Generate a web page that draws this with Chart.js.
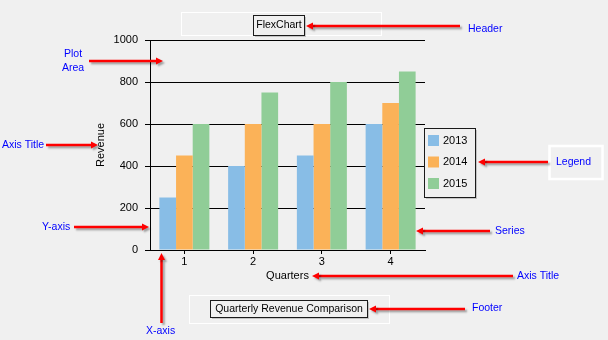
<!DOCTYPE html>
<html>
<head>
<meta charset="utf-8">
<script src="https://cdn.jsdelivr.net/npm/chart.js@4.4.1/dist/chart.umd.min.js"></script>
<style>
  html, body { margin: 0; padding: 0; background: #f0f0f0; }
  canvas { display: block; }
</style>
</head>
<body>
<canvas id="chart" width="608" height="340"></canvas>
<script>
// chart data
const quarters = ['1', '2', '3', '4'];
const seriesNames = ['2013', '2014', '2015'];
const revenue2013 = [250, 400, 450, 600];
const revenue2014 = [450, 600, 600, 700];
const revenue2015 = [600, 750, 800, 850];
const yTicks = [0, 200, 400, 600, 800, 1000];
const seriesColors = ['#88bde6', '#fbb258', '#90cd97'];

const headerText = 'FlexChart';
const footerText = 'Quarterly Revenue Comparison';
const xTitle = 'Quarters';
const yTitle = 'Revenue';

const FONT = "'Liberation Sans', Arial, sans-serif";
const BLUE = '#0000ff';

// red callout arrow with a soft grey shadow
function drawArrow(ctx, x1, y1, x2, y2) {
  ctx.save();
  ctx.shadowColor = 'rgba(0, 0, 0, 0.35)';
  ctx.shadowOffsetX = 2;
  ctx.shadowOffsetY = 2;
  ctx.shadowBlur = 2;
  ctx.strokeStyle = '#ff0000';
  ctx.fillStyle = '#ff0000';
  ctx.lineWidth = 2.5;
  const ang = Math.atan2(y2 - y1, x2 - x1);
  const hl = 7, hw = 3.5;
  const bx = x2 - hl * Math.cos(ang), by = y2 - hl * Math.sin(ang);
  ctx.beginPath();
  ctx.moveTo(x1, y1);
  ctx.lineTo(bx, by);
  ctx.stroke();
  ctx.beginPath();
  ctx.moveTo(x2, y2);
  ctx.lineTo(bx - hw * Math.sin(ang), by + hw * Math.cos(ang));
  ctx.lineTo(bx + hw * Math.sin(ang), by - hw * Math.cos(ang));
  ctx.closePath();
  ctx.fill();
  ctx.restore();
}

function label(ctx, text, x, y, align) {
  ctx.save();
  ctx.font = '10.5px ' + FONT;
  ctx.fillStyle = BLUE;
  ctx.textAlign = align || 'left';
  ctx.textBaseline = 'middle';
  ctx.fillText(text, x, y);
  ctx.restore();
}

function shadowBox(ctx, x, y, w, h) {
  ctx.save();
  ctx.fillStyle = 'rgba(0, 0, 0, 0.18)';
  ctx.fillRect(x + 2, y + 2, w, h);
  ctx.fillStyle = '#f0f0f0';
  ctx.fillRect(x, y, w, h);
  ctx.strokeStyle = '#1a1a1a';
  ctx.lineWidth = 1;
  ctx.strokeRect(x + 0.5, y + 0.5, w, h);
  ctx.restore();
}

const background = {
  id: 'background',
  beforeDraw: (chart) => {
    const ctx = chart.ctx;
    ctx.save();
    ctx.fillStyle = '#f0f0f0';
    ctx.fillRect(0, 0, chart.width, chart.height);
    ctx.restore();
  }
};

// header, footer, legend and the annotation callouts
const annotations = {
  id: 'annotations',
  afterDraw: (chart) => {
    const ctx = chart.ctx;
    ctx.save();

    // header
    ctx.strokeStyle = '#ffffff';
    ctx.lineWidth = 1;
    ctx.strokeRect(181.5, 12.5, 200, 23);
    shadowBox(ctx, 253, 15, 51, 20);
    ctx.font = '10.5px ' + FONT;
    ctx.fillStyle = '#000';
    ctx.textAlign = 'center';
    ctx.textBaseline = 'middle';
    ctx.fillText(headerText, 279, 25.5);

    // footer
    ctx.strokeStyle = '#ffffff';
    ctx.strokeRect(189.5, 295.5, 200, 28);
    shadowBox(ctx, 210, 300, 157, 17);
    ctx.fillStyle = '#000';
    ctx.fillText(footerText, 289, 309);

    // legend
    shadowBox(ctx, 424, 128, 51, 69);
    ctx.font = '11px ' + FONT;
    ctx.textAlign = 'left';
    chart.data.datasets.forEach((ds, i) => {
      const cy = 140.5 + i * 21.5;
      ctx.fillStyle = ds.backgroundColor;
      ctx.fillRect(428, cy - 5.5, 11, 11);
      ctx.fillStyle = '#000';
      ctx.fillText(ds.label, 443, cy);
    });

    // callouts
    ctx.strokeStyle = '#ffffff';
    ctx.lineWidth = 2.5;
    ctx.strokeRect(549.5, 146, 53, 33);

    drawArrow(ctx, 460, 26, 306, 26);
    label(ctx, 'Header', 468, 29);
    drawArrow(ctx, 548, 162, 478, 162);
    label(ctx, 'Legend', 556, 162);
    drawArrow(ctx, 490, 231, 416, 231);
    label(ctx, 'Series', 495, 231);
    drawArrow(ctx, 513, 276, 312, 276);
    label(ctx, 'Axis Title', 517, 276);
    drawArrow(ctx, 465, 309, 369, 309);
    label(ctx, 'Footer', 472, 308);
    drawArrow(ctx, 89, 61, 163, 61);
    label(ctx, 'Plot', 73, 54, 'center');
    label(ctx, 'Area', 73, 68, 'center');
    drawArrow(ctx, 46, 145, 98, 145);
    label(ctx, 'Axis Title', 2, 145);
    drawArrow(ctx, 74, 227, 149, 227);
    label(ctx, 'Y-axis', 42, 227);
    drawArrow(ctx, 161.5, 323, 161.5, 253);
    label(ctx, 'X-axis', 146, 331);

    ctx.restore();
  }
};

const datasets = [revenue2013, revenue2014, revenue2015].map((values, i) => ({
  label: seriesNames[i],
  data: values,
  backgroundColor: seriesColors[i],
  borderWidth: 0,
  categoryPercentage: 0.727,
  barPercentage: 1
}));

new Chart(document.getElementById('chart'), {
  type: 'bar',
  data: { labels: quarters, datasets: datasets },
  plugins: [background, annotations],
  options: {
    responsive: false,
    animation: false,
    layout: { padding: { left: 90, top: 40, right: 183, bottom: 0 } },
    plugins: {
      legend: { display: false },
      title: { display: false },
      tooltip: { enabled: false }
    },
    scales: {
      x: {
        afterFit: (scale) => { scale.height = 90; },
        grid: {
          offset: false,
          drawOnChartArea: false,
          color: '#000',
          tickLength: 4
        },
        border: { color: '#000' },
        ticks: { color: '#000', padding: 1, font: { family: FONT, size: 11 } },
        title: {
          display: true,
          text: xTitle,
          color: '#000',
          font: { family: FONT, size: 11 },
          padding: { top: 0, bottom: 57 }
        }
      },
      y: {
        min: 0,
        max: 1000,
        afterFit: (scale) => { scale.width = 60; },
        afterBuildTicks: (scale) => { scale.ticks = yTicks.map(v => ({ value: v })); },
        grid: { color: '#000', tickLength: 5 },
        border: { color: '#000' },
        ticks: {
          color: '#000',
          padding: 7,
          font: { family: FONT, size: 11 },
          callback: (value) => String(value)
        },
        title: {
          display: true,
          text: yTitle,
          color: '#000',
          font: { family: FONT, size: 11 },
          padding: { top: 4, bottom: 4 }
        }
      }
    }
  }
});
</script>
</body>
</html>
